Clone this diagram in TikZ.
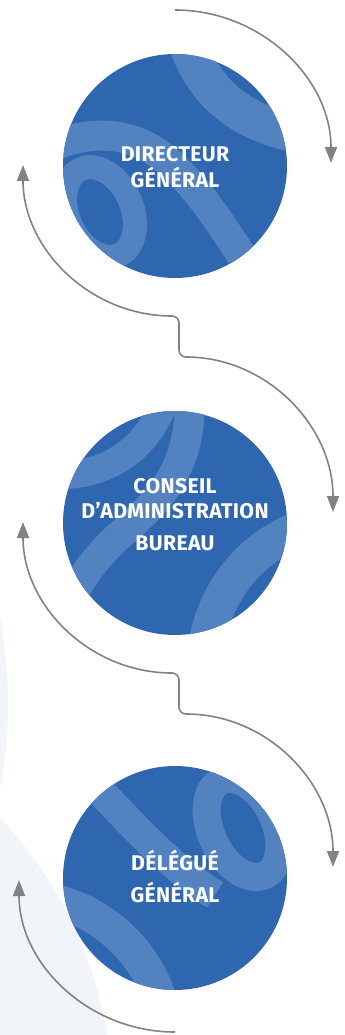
\documentclass[tikz,border=0pt]{standalone}
\usepackage{fontspec}
\usetikzlibrary{arrows.meta,calc}
\newfontfamily\labfont{Fira Sans}[LetterSpace=1.5]
\definecolor{discblue}{HTML}{2E66B0}
\definecolor{ribbon}{HTML}{5282C0}
\definecolor{flow}{HTML}{808285}
\definecolor{haze}{HTML}{F1F4F9}
\begin{document}
\begin{tikzpicture}[x=1pt,y=1pt,
  disc/.style={circle, fill=discblue, minimum size=224pt, inner sep=0pt},
  band/.style={draw=ribbon, line width=#1},
  flowtip/.tip={Triangle[length=16pt,width=12pt]},
  flowline/.style={draw=flow, line width=1.6pt},
  lbl/.style={text=white, font=\labfont\bfseries\fontsize{21.3}{24}\selectfont, anchor=base, inner sep=0pt}
]
\useasboundingbox (0,0) rectangle (345,-1035);

% pale backdrop on the left edge
\begin{scope}
  \clip (0,0) rectangle (345,-1035);
  \fill[haze] (-458,-703) circle (466);
  \fill[haze] (-300,-1100) circle (412);
\end{scope}

% the three discs
\node[disc] (c1) at (175,-166) {};
\node[disc] (c2) at (175,-523) {};
\node[disc] (c3) at (175,-878) {};

% ribbons inside disc 1
\begin{scope}
  \clip (c1.center) circle (112);
  \draw[band=38pt] (185,-35) .. controls (200,-90) and (240,-125) .. (305,-135);
  \draw[band=30pt] (45,-150) .. controls (80,-132) and (125,-128) .. (160,-155)
                   .. controls (200,-185) and (230,-240) .. (265,-290);
  \draw[band=24pt, rotate around={24:(100,-212)}] (100,-212) ellipse [x radius=32, y radius=47];
\end{scope}

% ribbons inside disc 2
\begin{scope}
  \clip (c2.center) circle (112);
  \draw[band=28pt] (50,-475) .. controls (100,-478) and (145,-455) .. (165,-400);
  \draw[band=30pt] (190,-400) .. controls (190,-470) and (160,-500) .. (120,-535)
                   .. controls (95,-557) and (75,-585) .. (60,-620);
  \draw[band=36pt] (310,-525) .. controls (250,-545) and (215,-590) .. (205,-650);
\end{scope}

% ribbons inside disc 3
\begin{scope}
  \clip (c3.center) circle (112);
  \draw[band=30pt] (75,-765) .. controls (120,-810) and (160,-860) .. (215,-895);
  \draw[band=28pt, rotate around={25:(243,-828)}] (243,-828) ellipse [x radius=32, y radius=52];
  \draw[band=34pt] (50,-900) .. controls (100,-910) and (145,-950) .. (160,-1000);
\end{scope}

% labels
\node[lbl] (t1a) at (175,-162) {DIRECTEUR};
\node[lbl] (t1b) at (175,-187) {GÉNÉRAL};
\node[lbl] (t2a) at (175,-493) {CONSEIL};
\node[lbl] (t2b) at (175,-518) {D’ADMINISTRATION};
\node[lbl] (t2c) at (175,-550) {BUREAU};
\node[lbl] (t3a) at (175,-870) {DÉLÉGUÉ};
\node[lbl] (t3b) at (175,-902) {GÉNÉRAL};

% flow arrows
\coordinate (in1) at (175,-10);
\coordinate (up1) at (23,-165);
\coordinate (up2) at (23,-522);
\coordinate (in3) at (175,-1032);

\draw[flowline, -flowtip] (in1) arc[start angle=90, end angle=0, x radius=156, y radius=153];

\draw[flowline, flowtip-flowtip] (up1)
  arc[start angle=180, end angle=270, x radius=149, y radius=151]
  arc[start angle=90, end angle=0, radius=7] -- ++(0,-27)
  arc[start angle=180, end angle=270, radius=7]
  arc[start angle=90, end angle=0, x radius=147, y radius=155];

\draw[flowline, flowtip-flowtip] (up2)
  arc[start angle=180, end angle=270, x radius=149, y radius=151]
  arc[start angle=90, end angle=0, radius=7] -- ++(0,-27)
  arc[start angle=180, end angle=270, radius=7]
  arc[start angle=90, end angle=0, x radius=147, y radius=153];

\draw[flowline, -flowtip] (in3) arc[start angle=270, end angle=180, x radius=156, y radius=152];
\end{tikzpicture}
\end{document}
